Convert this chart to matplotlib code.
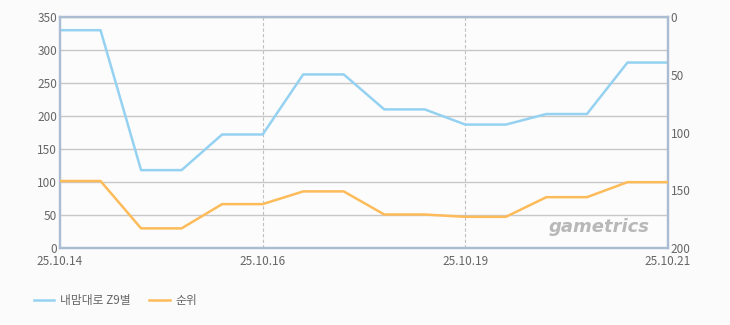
import matplotlib.pyplot as plt
import numpy as np

plt.rcParams['font.family'] = ['Noto Sans CJK KR', 'DejaVu Sans']

# data
x_labels = ["25.10.14", "25.10.16", "25.10.19", "25.10.21"]
label_idx = [0, 5, 10, 15]
sales = [330, 330, 118, 118, 172, 172, 263, 263, 210, 210, 187, 187, 203, 203, 281, 281]
rank = [142, 142, 183, 183, 162, 162, 151, 151, 171, 171, 173, 173, 156, 156, 143, 143]

blue = "#95d2f1"
orange = "#fdbb5a"
spine = "#aabdd2"
txt = "#666666"


def plot():
    fig = plt.figure(figsize=(7.3, 3.25), dpi=100)
    fig.patch.set_facecolor("#fbfbfb")
    ax = fig.add_axes([60 / 730, 1 - 248 / 325, 608 / 730, 231 / 325])
    ax.set_facecolor("#fcfcfc")

    x = np.arange(len(sales))
    l1, = ax.plot(x, sales, color=blue, lw=1.8, label="내맘대로 Z9별", zorder=3)
    ax.set_ylim(0, 350)
    ax.set_xlim(0, len(sales) - 1)
    ax.set_yticks(range(0, 351, 50))
    ax.set_xticks(label_idx)
    ax.set_xticklabels(x_labels)
    ax.grid(axis="y", color="#c8c8c8", lw=1)
    for i in label_idx[1:-1]:
        ax.axvline(i, color="#c0c0c0", lw=0.8, ls=(0, (3, 2)), zorder=1)
    ax.tick_params(axis="y", length=0, labelsize=8.5, colors=txt, pad=2)
    ax.tick_params(axis="x", length=0, labelsize=8.5, colors=txt, pad=5)

    ax2 = ax.twinx()
    l2, = ax2.plot(x, rank, color=orange, lw=1.8, label="순위", zorder=3)
    ax2.set_ylim(200, 0)
    ax2.set_yticks(range(0, 201, 50))
    ax2.tick_params(length=0, labelsize=8.5, colors=txt, pad=2)

    for a in (ax, ax2):
        for s in a.spines.values():
            s.set_color(spine)
            s.set_linewidth(1.6)

    ax.text(0.97, 0.05, "gametrics", transform=ax.transAxes, ha="right", va="bottom",
            fontsize=13, fontweight="bold", style="italic", color="#b8b8b8",
            family="DejaVu Sans", zorder=2)

    fig.legend(handles=[l1, l2], loc="center left", bbox_to_anchor=(0.032, 0.075),
               ncol=2, frameon=False, fontsize=8.5, labelcolor=txt,
               handlelength=1.7, columnspacing=1.6, handletextpad=0.5)

    fig.savefig("out.png", dpi=100, facecolor=fig.get_facecolor())
    plt.close()


if __name__ == "__main__":
    plot()
